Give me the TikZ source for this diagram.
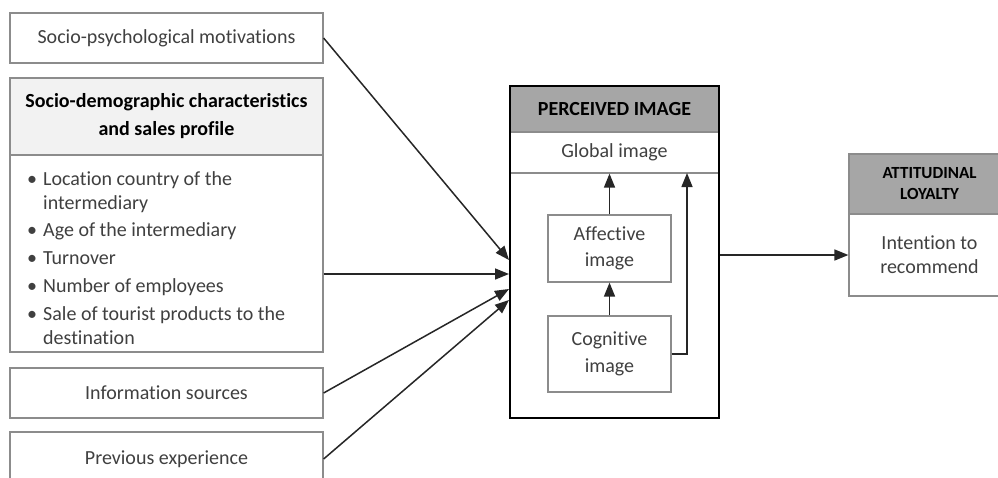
\documentclass[tikz,border=0pt]{standalone}
\usepackage{fontspec}
\setmainfont{Carlito}[Ligatures=NoCommon]
\usetikzlibrary{arrows.meta}

\definecolor{txtgray}{HTML}{404040}
\definecolor{linegray}{HTML}{8C8C8C}
\definecolor{headgray}{HTML}{A6A6A6}
\definecolor{lightgray}{HTML}{F2F2F2}

\tikzset{
	box/.style={shape=rectangle, draw=linegray, line width=1.2pt, text=txtgray,
		minimum width=313pt, inner sep=0pt, align=center},
	darkhead/.style={box, fill=headgray, text=black},
	link/.style={line width=1.5pt, draw=black!85, -{Triangle[length=14pt,width=11pt]}},
}

\begin{document}
\begin{tikzpicture}[x=1pt, y=-1pt, font=\fontsize{20}{24}\selectfont]
	
	\clip (0,0) rectangle (998,477);
	\fill[white] (0,0) rectangle (998,477);
	
	% left column
	\node[box, minimum height=50pt] (motiv) at (166.5, 38) {Socio-psychological motivations};
	\node[box, fill=lightgray, text=black, font=\fontsize{20}{28}\selectfont\bfseries,
		minimum height=77pt] (demohead) at (166.5, 116.5)
		{Socio-demographic characteristics\\and sales profile};
	\node[box, minimum height=197pt] (demolist) at (166.5, 253.5) {};
	\node[anchor=north west, inner sep=0pt, align=left, text=txtgray] (items) at (27, 171)
		{\makebox[16pt][l]{\textbullet}Location country of the\\
		 \hspace*{16pt}intermediary\\[3.8pt]
		 \makebox[16pt][l]{\textbullet}Age of the intermediary\\[3.8pt]
		 \makebox[16pt][l]{\textbullet}Turnover\\[3.8pt]
		 \makebox[16pt][l]{\textbullet}Number of employees\\[3.8pt]
		 \makebox[16pt][l]{\textbullet}Sale of tourist products to the\\
		 \hspace*{16pt}destination};
	\node[box, minimum height=50pt] (info) at (166.5, 393) {Information sources};
	\node[box, minimum height=54pt] (prev) at (166.5, 459) {Previous experience};
	
	% perceived image block
	\node[darkhead, font=\fontsize{20}{24}\selectfont\bfseries, minimum width=209pt,
		minimum height=46pt] (perchead) at (614.5, 109) {PERCEIVED IMAGE};
	\node[box, minimum width=209pt, minimum height=41pt] (global) at (614.5, 152.5) {Global image};
	\node[box, font=\fontsize{20}{26.5}\selectfont, minimum width=123pt,
		minimum height=67pt] (affect) at (609.5, 248.5) {Affective\\image};
	\node[box, font=\fontsize{20}{26.5}\selectfont, minimum width=123pt,
		minimum height=76pt] (cogn) at (609.5, 354) {Cognitive\\image};
	\node[draw=black, line width=2.5pt, minimum width=209pt, minimum height=332pt] (perc) at (614.5, 252) {};
	
	% attitudinal loyalty block
	\node[darkhead, font=\fontsize{17}{21}\selectfont\bfseries, minimum width=161pt,
		minimum height=60pt] (atthead) at (929.5, 184) {ATTITUDINAL\\LOYALTY};
	\node[box, minimum width=161pt, minimum height=82pt] (attbody) at (929.5, 255) {Intention to\\recommend};
	
	% arrow ends on the left side of the block
	\coordinate (t1) at (509, 260);
	\coordinate (t2) at (509, 274);
	\coordinate (t3) at (509, 289);
	\coordinate (t4) at (509, 300);
	\coordinate (rise) at (687, 173);
	
	\draw[link] (motiv.east) -- (t1);
	\draw[link] (demolist.east |- t2) -- (t2);
	\draw[link] (info.east) -- (t3);
	\draw[link] (prev.east) -- (t4);
	
	\draw[link] (affect.north) -- (global.south -| affect.north);
	\draw[link] (cogn.north) -- (affect.south);
	\draw[link] (cogn.east) -| (rise);
	\draw[link] (perc.east |- attbody.west) -- (attbody.west);
	
\end{tikzpicture}
\end{document}
